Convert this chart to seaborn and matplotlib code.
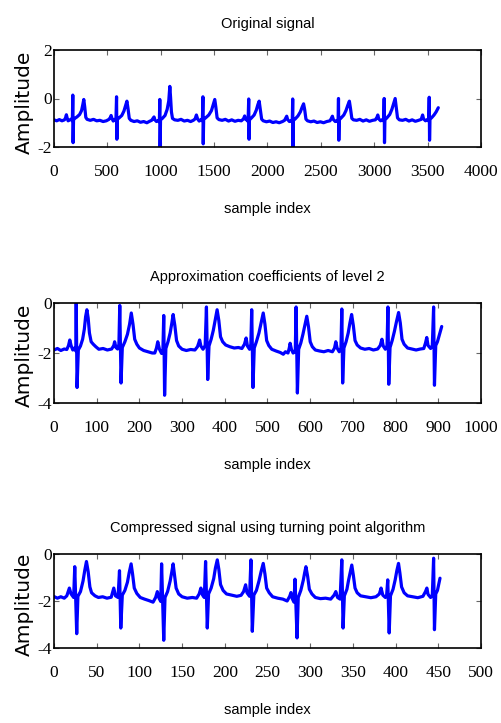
import matplotlib
matplotlib.use("Agg")
import matplotlib.pyplot as plt
import numpy as np
import pandas as pd
import seaborn as sns

# ---------------- data (vertices) ----------------
titles = ["Original signal",
          "Approximation coefficients of level 2",
          "Compressed signal using turning point algorithm"]
xlabel_text = "sample index"
ylabel_text = "Amplitude"

xticks1 = [0, 500, 1000, 1500, 2000, 2500, 3000, 3500, 4000]
xticks2 = [0, 100, 200, 300, 400, 500, 600, 700, 800, 900, 1000]
xticks3 = [0, 50, 100, 150, 200, 250, 300, 350, 400, 450, 500]
yticks1 = [-2, 0, 2]
yticks2 = [-4, -2, 0]
yticks3 = [-4, -2, 0]

sig1_x = [0, 25, 50, 75, 98, 108, 116, 124, 132, 150, 165, 172,
          176, 179, 183, 195, 215, 240, 258, 270, 279, 288, 298, 310, 340, 370, 400, 430, 460, 490, 515, 528, 535, 543, 555, 572, 580,
          586, 589, 593, 610, 635, 655, 670, 683, 693, 705, 720, 750, 780, 810, 840, 870, 895, 915, 928, 937, 945, 960, 980, 987,
          991, 994, 998, 1015, 1040, 1060, 1075, 1085, 1092, 1100, 1110, 1130, 1160, 1190, 1220, 1250, 1280, 1305, 1322, 1334, 1345, 1360, 1380, 1390,
          1395, 1398, 1402, 1420, 1450, 1475, 1492, 1506, 1516, 1528, 1545, 1575, 1605, 1635, 1665, 1695, 1725, 1755, 1775, 1786, 1795, 1810, 1818,
          1824, 1827, 1831, 1850, 1875, 1895, 1910, 1922, 1932, 1945, 1960, 1990, 2020, 2050, 2080, 2110, 2140, 2160, 2172, 2180, 2188, 2205, 2225, 2232,
          2236, 2239, 2243, 2260, 2285, 2308, 2325, 2338, 2348, 2360, 2375, 2405, 2435, 2465, 2495, 2525, 2555, 2585, 2598, 2608, 2616, 2635, 2655, 2661,
          2665, 2668, 2672, 2690, 2715, 2735, 2752, 2767, 2777, 2790, 2805, 2835, 2865, 2895, 2925, 2955, 2985, 3010, 3025, 3033, 3042, 3060, 3080, 3089,
          3093, 3096, 3100, 3118, 3145, 3165, 3182, 3196, 3206, 3218, 3235, 3265, 3295, 3325, 3355, 3385, 3415, 3440, 3453, 3462, 3480, 3500, 3510,
          3515, 3518, 3522, 3540, 3560, 3580, 3600]
sig1_y = [-0.88, -0.92, -0.87, -0.92, -0.88, -0.80, -0.67, -0.82, -0.92, -0.88, -0.84, -0.92,
          0.14, -1.82, -0.88, -0.82, -0.76, -0.66, -0.50, -0.25, -0.04, -0.35, -0.78, -0.86, -0.90, -0.86, -0.92, -0.90, -0.95, -0.92, -0.86, -0.78, -0.70, -0.82, -0.93, -0.86, -0.92,
          0.07, -1.68, -0.86, -0.80, -0.70, -0.52, -0.30, -0.11, -0.40, -0.82, -0.90, -0.95, -0.92, -0.98, -0.95, -1.00, -0.94, -0.90, -0.82, -0.76, -0.88, -0.95, -0.90, -0.96,
          -0.04, -2.00, -0.88, -0.82, -0.70, -0.45, -0.10, 0.50, 0.05, -0.55, -0.82, -0.88, -0.90, -0.86, -0.93, -0.90, -0.95, -0.90, -0.84, -0.68, -0.84, -0.93, -0.86, -0.92,
          0.07, -1.87, -0.86, -0.80, -0.68, -0.50, -0.25, -0.04, -0.35, -0.80, -0.87, -0.90, -0.86, -0.93, -0.88, -0.94, -0.90, -0.92, -0.84, -0.72, -0.86, -0.90, -0.95,
          -0.02, -1.68, -0.88, -0.80, -0.68, -0.48, -0.25, -0.11, -0.42, -0.85, -0.92, -0.96, -0.93, -0.99, -0.96, -1.00, -0.95, -0.90, -0.80, -0.73, -0.86, -0.95, -0.90, -0.97,
          -0.02, -1.99, -0.90, -0.84, -0.72, -0.55, -0.35, -0.22, -0.45, -0.85, -0.92, -0.96, -0.93, -0.99, -0.96, -1.00, -0.95, -0.92, -0.82, -0.73, -0.86, -0.95, -0.90, -0.97,
          0.00, -1.72, -0.88, -0.80, -0.68, -0.50, -0.28, -0.11, -0.40, -0.82, -0.88, -0.90, -0.86, -0.93, -0.88, -0.94, -0.90, -0.88, -0.78, -0.68, -0.84, -0.92, -0.86, -0.93,
          0.00, -1.82, -0.88, -0.80, -0.66, -0.45, -0.20, 0.00, -0.35, -0.80, -0.88, -0.90, -0.86, -0.93, -0.88, -0.94, -0.90, -0.86, -0.68, -0.84, -0.92, -0.86, -0.93,
          0.05, -1.72, -0.86, -0.78, -0.68, -0.55, -0.38]

sig2_x = [0, 8, 16, 24, 30, 34, 37, 40, 44, 48, 51,
          52, 54, 57, 62, 67, 71, 74, 77, 80, 83, 87, 92, 98, 105, 115, 125, 135, 140, 142, 145, 149, 152,
          154, 157, 160, 166, 172, 177, 181, 185, 189, 194, 200, 210, 220, 230, 236, 240, 243, 247, 252, 255,
          257, 259, 262, 267, 272, 276, 279, 283, 287, 292, 300, 310, 320, 330, 336, 339, 341, 344, 349, 354,
          357, 360, 363, 368, 373, 378, 382, 386, 390, 395, 402, 412, 422, 432, 440, 446, 450, 453, 458, 461,
          463, 466, 469, 474, 480, 485, 490, 494, 498, 503, 510, 520, 530, 537, 542, 548, 551, 553, 556, 560, 565,
          567, 570, 573, 578, 583, 588, 592, 596, 600, 605, 612, 622, 632, 642, 652, 657, 660, 663, 668, 672,
          674, 676, 679, 684, 689, 693, 697, 701, 705, 710, 718, 728, 738, 748, 758, 764, 768, 771, 776, 780,
          782, 784, 787, 792, 797, 802, 807, 811, 815, 820, 828, 838, 848, 858, 866, 870, 873, 876, 882, 886,
          889, 891, 894, 898, 903, 908]
sig2_y = [-1.88, -1.82, -1.90, -1.84, -1.86, -1.70, -1.48, -1.70, -1.88, -1.80, -1.92,
          0.00, -3.38, -1.88, -1.72, -1.45, -1.05, -0.55, -0.27, -0.60, -1.20, -1.55, -1.65, -1.75, -1.85, -1.82, -1.88, -1.84, -1.70, -1.55, -1.78, -1.84, -1.65,
          -0.10, -3.20, -1.78, -1.55, -1.25, -0.85, -0.40, -0.85, -1.45, -1.65, -1.80, -1.90, -1.95, -2.00, -2.00, -1.80, -1.55, -1.85, -2.02, -1.90,
          -0.50, -3.69, -1.82, -1.55, -1.20, -0.80, -0.46, -0.90, -1.50, -1.72, -1.85, -1.90, -1.86, -1.88, -1.75, -1.60, -1.48, -1.72, -1.85, -1.70,
          -0.16, -3.06, -1.72, -1.45, -1.10, -0.65, -0.27, -0.70, -1.35, -1.55, -1.68, -1.75, -1.80, -1.78, -1.82, -1.65, -1.40, -1.72, -1.85, -1.65,
          -0.27, -3.38, -1.80, -1.55, -1.20, -0.80, -0.40, -0.85, -1.50, -1.70, -1.85, -1.92, -1.98, -2.05, -1.95, -2.00, -1.80, -1.61, -1.85, -2.00, -1.95,
          -0.16, -3.60, -1.85, -1.60, -1.25, -0.85, -0.53, -0.95, -1.55, -1.75, -1.88, -1.92, -1.95, -1.90, -1.95, -1.80, -1.55, -1.80, -1.95, -1.80,
          -0.24, -3.20, -1.80, -1.55, -1.20, -0.80, -0.46, -0.90, -1.50, -1.68, -1.80, -1.85, -1.82, -1.88, -1.84, -1.70, -1.45, -1.72, -1.85, -1.70,
          -0.16, -3.25, -1.78, -1.50, -1.15, -0.75, -0.38, -0.80, -1.45, -1.65, -1.80, -1.84, -1.88, -1.84, -1.82, -1.60, -1.38, -1.70, -1.82, -1.70,
          -0.16, -3.29, -1.70, -1.55, -1.25, -0.94]

sig3_x = [0, 4, 8, 12, 15, 18, 20, 23,
          24.3, 26.6, 28, 31, 34, 36, 38, 40, 42, 44, 48, 52, 57, 62, 67, 70, 72, 75,
          76.7, 78.2, 80, 83, 86, 88, 90.3, 92, 94, 97, 101, 106, 111, 116, 119, 121, 123, 125,
          126, 128.5, 130, 133, 136, 138, 139.5, 141, 143, 146, 150, 156, 162, 167, 170, 172, 174, 176,
          177.5, 179.5, 181, 184, 187, 189, 191.2, 193, 195, 198, 202, 208, 214, 219, 222, 224.4, 226, 229,
          230.6, 232.2, 234, 237, 240, 242.5, 245, 247, 249, 252, 256, 262, 268, 273, 276, 277.5, 279, 281,
          282.2, 284.6, 286, 289, 292, 293.5, 295, 297, 299, 302, 306, 312, 318, 324, 328, 330, 332, 335,
          337, 338.5, 340, 343, 345, 347, 348.7, 350.5, 352.5, 355, 359, 365, 371, 377, 381, 383, 385, 388, 389.5,
          390.8, 392.5, 394, 397, 399.5, 401.5, 403.4, 405, 407, 410, 414, 420, 426, 432, 435, 436.6, 438, 441, 443,
          444.5, 445.5, 447, 449, 452]
sig3_y = [-1.81, -1.88, -1.82, -1.88, -1.78, -1.45, -1.70, -1.85,
          -0.54, -3.39, -1.80, -1.60, -1.15, -0.70, -0.32, -0.75, -1.40, -1.65, -1.78, -1.85, -1.82, -1.88, -1.84, -1.45, -1.78, -1.85,
          -0.71, -3.15, -1.75, -1.55, -1.20, -0.80, -0.42, -0.85, -1.45, -1.68, -1.85, -1.92, -1.98, -2.05, -1.85, -1.60, -1.88, -2.02,
          -0.42, -3.67, -1.85, -1.60, -1.15, -0.75, -0.42, -0.85, -1.45, -1.70, -1.82, -1.88, -1.85, -1.88, -1.70, -1.45, -1.75, -1.85,
          -0.32, -3.15, -1.70, -1.45, -1.05, -0.60, -0.25, -0.65, -1.30, -1.55, -1.70, -1.75, -1.80, -1.76, -1.60, -1.31, -1.65, -1.80,
          -0.25, -3.29, -1.75, -1.55, -1.15, -0.75, -0.40, -0.85, -1.45, -1.65, -1.82, -1.88, -1.92, -2.00, -1.80, -1.64, -1.90, -2.05,
          -1.07, -3.57, -1.85, -1.55, -1.10, -0.80, -0.54, -0.95, -1.50, -1.70, -1.85, -1.90, -1.88, -1.92, -1.75, -1.60, -1.85, -1.92,
          -0.25, -3.15, -1.78, -1.50, -1.10, -0.75, -0.47, -0.90, -1.45, -1.65, -1.78, -1.82, -1.86, -1.82, -1.70, -1.45, -1.75, -1.85, -1.75,
          -1.10, -3.36, -1.78, -1.50, -1.10, -0.70, -0.40, -0.80, -1.40, -1.65, -1.78, -1.82, -1.86, -1.80, -1.60, -1.45, -1.72, -1.85, -1.75,
          -0.18, -3.22, -1.70, -1.55, -1.03]

# ---------------- styling ----------------
sns.set_theme(style="white")
plt.rcParams["font.family"] = ["Liberation Serif", "DejaVu Serif"]
plt.rcParams["axes.unicode_minus"] = False

TITLE_FONT = ["Liberation Sans Narrow", "Liberation Sans", "DejaVu Sans"]
YLAB_FONT = ["DejaVu Sans"]

fig = plt.figure(figsize=(5.02, 7.23), dpi=100)
W, H = 502.0, 723.0

# (left, top, right, bottom) in pixels
boxes = [(54, 50, 481, 147), (54, 303, 481, 403), (54, 554, 481, 648)]
xlims = [(0, 4000), (0, 1000), (0, 500)]
ylims = [(-2, 2), (-4, 0), (-4, 0)]
xticks = [xticks1, xticks2, xticks3]
yticks = [yticks1, yticks2, yticks3]
sigs = [(sig1_x, sig1_y), (sig2_x, sig2_y), (sig3_x, sig3_y)]
ylab_centers = [102, 355, 604]

for i in range(3):
    l, t, r, b = boxes[i]
    ax = fig.add_axes([l / W, 1 - b / H, (r - l) / W, (b - t) / H])
    df = pd.DataFrame({"x": sigs[i][0], "y": sigs[i][1]})
    sns.lineplot(data=df, x="x", y="y", ax=ax, color="#0000ff", linewidth=2.3,
                 sort=False, estimator=None)
    ax.set_xlim(*xlims[i])
    ax.set_ylim(*ylims[i])
    ax.set_xticks(xticks[i])
    ax.set_xticklabels([str(v) for v in xticks[i]])
    ax.set_yticks(yticks[i])
    ax.set_yticklabels([str(v) for v in yticks[i]])
    ax.tick_params(axis="x", direction="in", length=3.8, width=0.8, color="#666666",
                   top=True, bottom=True, labelsize=12.5, pad=12, labelcolor="black")
    ax.tick_params(axis="y", direction="in", length=3.8, width=0.8, color="#666666",
                   left=True, right=True, labelsize=12.5, pad=1.5, labelcolor="black")
    for s in ax.spines.values():
        s.set_visible(True)
        s.set_color("black")
        s.set_linewidth(1.2)
    ax.set_title(titles[i], fontfamily=TITLE_FONT, fontsize=10.5, pad=15.5, color="black")
    hpx = b - t
    ax.set_xlabel(xlabel_text, fontfamily=TITLE_FONT, fontsize=10.5, color="black")
    ax.xaxis.set_label_coords(0.5, -55.0 / hpx)
    ax.set_ylabel(ylabel_text, fontfamily=YLAB_FONT, fontsize=14.5, color="black",
                  va="center")
    ax.yaxis.set_label_coords((24 - l) / (r - l), (b - ylab_centers[i]) / hpx)
    ax.grid(False)

fig.savefig("out.png", dpi=100)
